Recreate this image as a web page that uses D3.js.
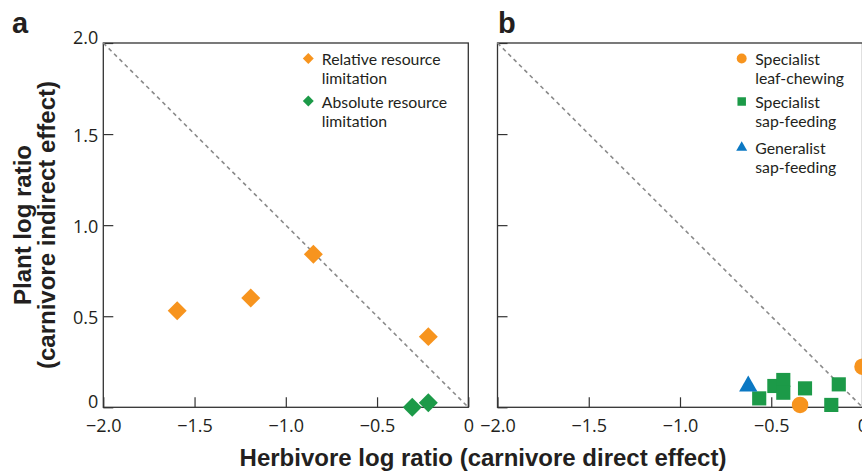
<!DOCTYPE html>
<html><head><meta charset="utf-8">
<script src="https://cdn.jsdelivr.net/npm/d3@7"></script>
<style>body{margin:0;overflow:hidden;background:#fff} svg{display:block}</style>
</head><body><script>
// ---- data ----
const xTicks = [-2, -1.5, -1, -0.5, 0];
const yTicks = [0, 0.5, 1, 1.5, 2];
const xTickLabels = ["\u22122.0", "\u22121.5", "\u22121.0", "\u22120.5", "0"];
const yTickLabels = ["0", "0.5", "1.0", "1.5", "2.0"];

// panel a
const relX = [-1.595, -1.192, -0.849, -0.219];
const relY = [0.53, 0.60, 0.84, 0.388];
const absX = [-0.307, -0.219];
const absY = [0.0, 0.025];
// panel b
const leafX = [-0.342, 0.0];
const leafY = [0.013, 0.223];
const sapX = [-0.566, -0.483, -0.434, -0.434, -0.315, -0.130, -0.171];
const sapY = [0.049, 0.117, 0.15, 0.08, 0.104, 0.126, 0.013];
const genX = [-0.626];
const genY = [0.116];

const legendA = ["Relative resource|limitation", "Absolute resource|limitation"];
const legendB = ["Specialist|leaf-chewing", "Specialist|sap-feeding", "Generalist|sap-feeding"];

// ---- style ----
const ORANGE = "#F7941E", GREEN = "#1C9A48", BLUE = "#0B78C3";
const INK = "#231F20", FRAME = "#333";
const tickFont = "'Open Sans', sans-serif";
const legendFont = "Lato, 'Open Sans', sans-serif";
const titleFont = "'Liberation Sans', Arial, sans-serif";

const svg = d3.select("body").append("svg").attr("width", 890).attr("height", 471);

const PW = 365, PH = 364.3, TOP = 43;

function zip(xs, ys) { return xs.map((x, i) => ({x, y: ys[i]})); }

function panel(ox, letter, letterX, showY) {
  const g = svg.append("g").attr("transform", `translate(${ox},${TOP})`);
  const x = d3.scaleLinear().domain([-2, 0]).range([0, PW]);
  const y = d3.scaleLinear().domain([0, 2]).range([PH, 0]);

  const ya = g.append("g").call(d3.axisLeft(y).tickValues(yTicks).tickSizeInner(-10).tickSizeOuter(0)
      .tickPadding(5).tickFormat((d, i) => showY ? yTickLabels[i] : ""));
  ya.select(".domain").remove();
  ya.selectAll(".tick line").attr("stroke", FRAME).attr("stroke-width", 1.2);
  ya.selectAll(".tick text").attr("font-family", tickFont).attr("font-size", 18).attr("fill", INK)
    .attr("dy", d => (d === 0 || d === 2) ? "0em" : "0.4em");

  const xa = g.append("g").attr("transform", `translate(0,${PH})`)
    .call(d3.axisBottom(x).tickValues(xTicks).tickSizeInner(-10).tickSizeOuter(0)
      .tickPadding(12).tickFormat((d, i) => xTickLabels[i]));
  xa.select(".domain").remove();
  xa.selectAll(".tick line").attr("stroke", FRAME).attr("stroke-width", 1.2);
  xa.selectAll(".tick text").attr("font-family", tickFont).attr("font-size", 18).attr("fill", INK);

  g.append("rect").attr("width", PW).attr("height", PH).attr("fill", "none")
    .attr("stroke", FRAME).attr("stroke-width", 1.3);

  g.append("line").attr("x1", x(-2)).attr("y1", y(2)).attr("x2", x(0)).attr("y2", y(0))
    .attr("stroke", "#8a8a8a").attr("stroke-width", 1.6).attr("stroke-dasharray", "4,3.6");

  svg.append("text").attr("x", letterX).attr("y", 33)
    .attr("font-family", titleFont).attr("font-weight", "bold").attr("font-size", 29)
    .attr("fill", INK).text(letter);
  return {g, x, y};
}

const A = panel(103.3, "a", 12, true);
const B = panel(497.5, "b", 498, false);

// panel a marks
function diamonds(p, data, color, size) {
  p.g.selectAll(null).data(data).enter().append("path")
    .attr("d", d3.symbol().type(d3.symbolSquare).size(size)())
    .attr("transform", d => `translate(${p.x(d.x)},${p.y(d.y)}) rotate(45)`)
    .attr("fill", color);
}
diamonds(A, zip(relX, relY), ORANGE, 180);
diamonds(A, zip(absX, absY), GREEN, 180);

// panel b marks
function marks(p, data, type, size, color) {
  p.g.selectAll(null).data(data).enter().append("path")
    .attr("d", d3.symbol().type(type).size(size)())
    .attr("transform", d => `translate(${p.x(d.x)},${p.y(d.y)})`)
    .attr("fill", color);
}
marks(B, zip(sapX, sapY), d3.symbolSquare, 200, GREEN);
marks(B, zip(leafX, leafY), d3.symbolCircle, 214, ORANGE);
marks(B, zip(genX, genY), d3.symbolTriangle, 145, BLUE);

// legends
function legend(p, items, symX, baselines, drawSym) {
  items.forEach((lab, i) => {
    const lines = lab.split("|");
    const b = baselines[i];
    drawSym(p.g.append("path"), i, symX, b - TOP - 6.5);
    lines.forEach((ln, j) => {
      p.g.append("text").attr("x", symX + 13.5).attr("y", b - TOP + j * 19)
        .attr("font-family", legendFont).attr("font-size", 15.8).attr("fill", INK).text(ln);
    });
  });
}
legend(A, legendA, 205, [65, 107.5], (s, i, sx, sy) => {
  s.attr("d", d3.symbol().type(d3.symbolSquare).size(60)())
   .attr("transform", `translate(${sx},${sy}) rotate(45)`)
   .attr("fill", i === 0 ? ORANGE : GREEN);
});
legend(B, legendB, 244.2, [65, 108, 154], (s, i, sx, sy) => {
  const types = [d3.symbolCircle, d3.symbolSquare, d3.symbolTriangle];
  const sizes = [78, 72, 52];
  const cols = [ORANGE, GREEN, BLUE];
  s.attr("d", d3.symbol().type(types[i]).size(sizes[i])())
   .attr("transform", `translate(${sx},${sy})`)
   .attr("fill", cols[i]);
});

// axis titles
svg.append("text").attr("x", 483).attr("y", 466).attr("text-anchor", "middle")
  .attr("font-family", titleFont).attr("font-weight", "bold").attr("font-size", 24)
  .attr("fill", INK).text("Herbivore log ratio (carnivore direct effect)");

["Plant log ratio", "(carnivore indirect effect)"].forEach((t, j) => {
  svg.append("text").attr("transform", `translate(${31 + j * 24},225) rotate(-90)`)
    .attr("text-anchor", "middle").attr("font-family", titleFont).attr("font-weight", "bold")
    .attr("font-size", 24).attr("fill", INK).text(t);
});
</script></body></html>
